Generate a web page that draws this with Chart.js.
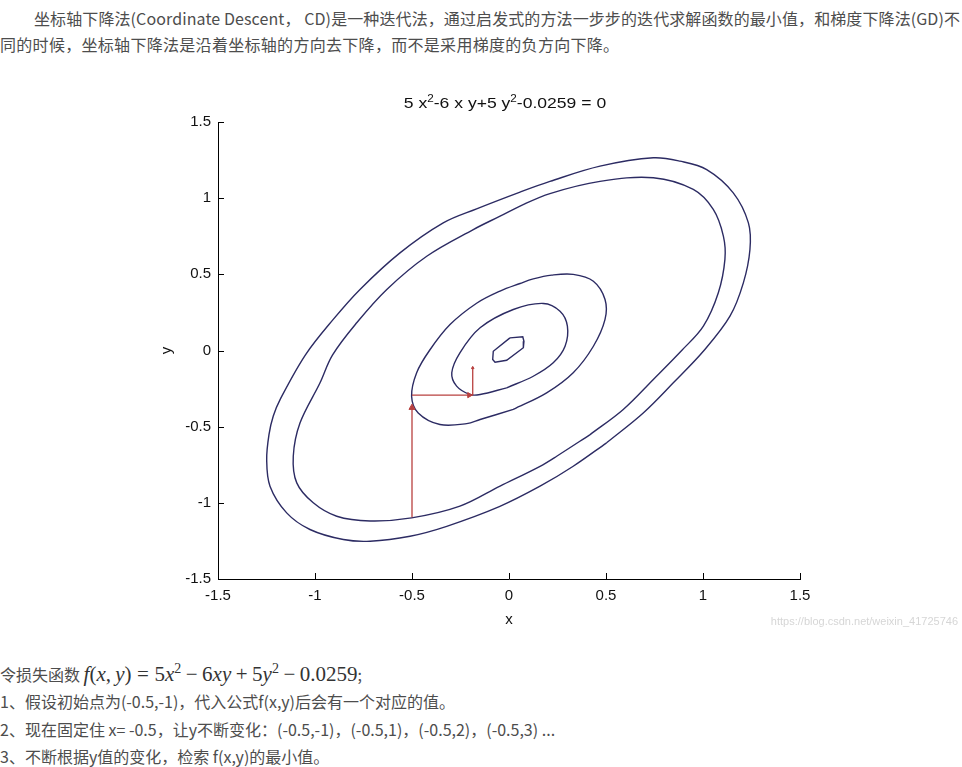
<!DOCTYPE html>
<html>
<head>
<meta charset="utf-8">
<script src="https://cdn.jsdelivr.net/npm/chart.js@4"></script>
<style>
  html, body { margin:0; padding:0; background:#fff; }
  body { width:962px; height:767px; position:relative; overflow:hidden; }
  .txt { position:absolute; left:0; font-family:"Noto Sans CJK SC", sans-serif; font-size:16px; color:#4d4d4d; white-space:nowrap; }
  #top { top:5px; line-height:26px; }
  #bottom { top:655px; line-height:27.3px; }
  .m { font-family:"Liberation Serif", serif; font-size:21px; color:#333; }
  .m i { font-style:italic; }
  .op { margin:0 4.5px; }
  .rel { margin:0 5.5px; }
  #wm { position:absolute; right:4px; top:615px; font-family:"Liberation Sans", sans-serif; font-size:11px; color:#d6d6d6; }
  #cv { position:absolute; left:140px; top:85px; }
</style>
</head>
<body>
<div id="top" class="txt">
  <div style="padding-left:34px; letter-spacing:0.1px">坐标轴下降法(Coordinate Descent， CD)是一种迭代法，通过启发式的方法一步步的迭代求解函数的最小值，和梯度下降法(GD)不</div>
  <div style="letter-spacing:0.3px">同的时候，坐标轴下降法是沿着坐标轴的方向去下降，而不是采用梯度的负方向下降。</div>
</div>
<canvas id="cv" width="680" height="550"></canvas>
<div id="wm">https://blog.csdn.net/weixin_41725746</div>
<div id="bottom" class="txt">
  <div>令损失函数 <span class="m"><i>f</i>(<i>x</i>,&thinsp;<i>y</i>)<span class="rel">=</span>5<i>x</i><sup style="font-size:14px">2</sup><span class="op">−</span>6<i>xy</i><span class="op">+</span>5<i>y</i><sup style="font-size:14px">2</sup><span class="op">−</span>0.0259</span>;</div>
  <div>1、假设初始点为(-0.5,-1)，代入公式f(x,y)后会有一个对应的值。</div>
  <div>2、现在固定住 x= -0.5，让y不断变化：(-0.5,-1)，(-0.5,1)，(-0.5,2)，(-0.5,3) ...</div>
  <div>3、不断根据y值的变化，检索 f(x,y)的最小值。</div>
</div>
<script>
// ---- data ----
const xTickValues = [-1.5, -1, -0.5, 0, 0.5, 1, 1.5];
const xTickLabels = ['-1.5', '-1', '-0.5', '0', '0.5', '1', '1.5'];
const yTickValues = [-1.5, -1, -0.5, 0, 0.5, 1, 1.5];
const yTickLabels = ['-1.5', '-1', '-0.5', '0', '0.5', '1', '1.5'];

// contour levels, from the innermost to the outermost ([x, y] points, closed loops)
const contour1 = [[0.005,0.083],[0.071,0.09],[0.077,0.061],[0.074,0.018],[-0.012,-0.064],[-0.072,-0.077],[-0.084,-0.059],[-0.081,-0.005],[0.005,0.083]];
const contour2 = [[-0.012,-0.245],[-0.149,-0.289],[-0.201,-0.289],[-0.27,-0.234],[-0.295,-0.146],[-0.253,-0.015],[-0.149,0.149],[0.022,0.269],[0.177,0.309],[0.263,0.258],[0.301,0.16],[0.289,0.028],[0.228,-0.081],[0.125,-0.169],[-0.012,-0.245]];
const contour3 = [[0.022,-0.387],[-0.149,-0.453],[-0.218,-0.48],[-0.356,-0.486],[-0.468,-0.41],[-0.502,-0.3],[-0.476,-0.146],[-0.41,0.0],[-0.304,0.17],[-0.167,0.31],[-0.046,0.39],[0.057,0.44],[0.125,0.47],[0.22,0.495],[0.331,0.5],[0.435,0.455],[0.495,0.335],[0.495,0.204],[0.435,0.028],[0.331,-0.146],[0.194,-0.278],[0.022,-0.387]];
const contour4 = [[0.418,-0.552],[0.246,-0.694],[0.16,-0.76],[-0.046,-0.89],[-0.253,-1.022],[-0.502,-1.099],[-0.716,-1.119],[-0.888,-1.088],[-1.009,-1.0],[-1.094,-0.869],[-1.112,-0.694],[-1.077,-0.475],[-0.974,-0.212],[-0.91,-0.03],[-0.785,0.182],[-0.63,0.401],[-0.424,0.619],[-0.184,0.794],[-0.046,0.882],[0.057,0.948],[0.211,1.03],[0.469,1.11],[0.744,1.134],[0.95,1.057],[1.053,0.926],[1.105,0.751],[1.113,0.598],[1.079,0.379],[1.002,0.16],[0.89,0.0],[0.744,-0.19],[0.589,-0.387],[0.418,-0.552]];
const contour5 = [[0.503,-0.606],[0.331,-0.76],[0.16,-0.891],[-0.05,-1.025],[-0.321,-1.154],[-0.51,-1.219],[-0.716,-1.252],[-0.854,-1.241],[-1.026,-1.175],[-1.146,-1.066],[-1.232,-0.891],[-1.249,-0.716],[-1.237,-0.55],[-1.215,-0.43],[-1.18,-0.322],[-1.05,-0.03],[-0.906,0.204],[-0.768,0.401],[-0.562,0.641],[-0.339,0.838],[-0.167,0.93],[0.057,1.04],[0.211,1.11],[0.469,1.21],[0.744,1.265],[0.881,1.243],[1.019,1.188],[1.156,1.035],[1.234,0.838],[1.242,0.663],[1.208,0.444],[1.139,0.225],[1.005,0.0],[0.847,-0.212],[0.692,-0.41],[0.503,-0.606]];

// coordinate-descent steps (red arrows)
const stepUp = [[-0.5,-1.095],[-0.5,-0.375]];
const stepRight = [[-0.5,-0.293],[-0.205,-0.293],[-0.187,-0.293]];
const stepShort = [[-0.187,-0.293],[-0.187,-0.114]];

const titleParts = [['5 x',false],['2',true],['-6 x y+5 y',false],['2',true],['-0.0259 = 0',false]];

// ---- chart ----
const toXY = arr => arr.map(p => ({x: p[0], y: p[1]}));
const LINE = '#2c2b63';
const RED = '#b8403f';
const contourSet = (arr, tension) => ({
  data: toXY(arr), showLine: true, borderColor: LINE, borderWidth: 1.4,
  pointRadius: 0, tension: tension, fill: false
});
const stepSet = (arr, radii, rot) => ({
  data: toXY(arr), showLine: true, borderColor: RED, borderWidth: 1.3,
  pointRadius: radii, pointStyle: 'triangle', rotation: rot,
  backgroundColor: RED, pointBorderColor: RED, pointBorderWidth: 1, tension: 0
});

const innerTicks = {
  id: 'innerTicks',
  afterDraw(chart) {
    const {ctx, chartArea, scales} = chart;
    ctx.save();
    ctx.strokeStyle = '#000';
    ctx.lineWidth = 1;
    ctx.beginPath();
    xTickValues.forEach(v => {
      const px = Math.round(scales.x.getPixelForValue(v)) + 0.5;
      ctx.moveTo(px, chartArea.bottom);
      ctx.lineTo(px, chartArea.bottom - 6);
    });
    yTickValues.forEach(v => {
      const py = Math.round(scales.y.getPixelForValue(v)) + 0.5;
      ctx.moveTo(chartArea.left, py);
      ctx.lineTo(chartArea.left + 6, py);
    });
    ctx.stroke();
    ctx.restore();
  }
};

const matlabTitle = {
  id: 'matlabTitle',
  afterDraw(chart) {
    const {ctx, chartArea} = chart;
    ctx.save();
    const big = '15px "Liberation Sans", Arial, sans-serif';
    const small = '10px "Liberation Sans", Arial, sans-serif';
    const sx = 1.17;
    let total = 0;
    titleParts.forEach(([t, sup]) => { ctx.font = sup ? small : big; total += ctx.measureText(t).width; });
    const cx = (chartArea.left + chartArea.right) / 2 - 4;
    const baseY = 23;
    ctx.translate(cx - total * sx / 2, baseY);
    ctx.scale(sx, 1);
    ctx.fillStyle = '#111';
    ctx.textBaseline = 'alphabetic';
    let x = 0;
    titleParts.forEach(([t, sup]) => {
      ctx.font = sup ? small : big;
      ctx.fillText(t, x, sup ? -6 : 0);
      x += ctx.measureText(t).width;
    });
    ctx.restore();
  }
};

const tickFont = {family: '"Liberation Sans", Arial, sans-serif', size: 15};

new Chart(document.getElementById('cv'), {
  type: 'scatter',
  data: {
    datasets: [
      stepSet(stepUp, [0, 3.5], 0),
      stepSet(stepRight, [0, 3, 0], 90),
      stepSet(stepShort, [0, 1.5], 0),
      contourSet(contour1, 0),
      contourSet(contour2, 0.35),
      contourSet(contour3, 0.35),
      contourSet(contour4, 0.35),
      contourSet(contour5, 0.35)
    ]
  },
  options: {
    responsive: false,
    animation: false,
    devicePixelRatio: 1,
    layout: {padding: {top: 37, right: 20, left: 0, bottom: 0}},
    plugins: {legend: {display: false}, tooltip: {enabled: false}, title: {display: false}},
    scales: {
      x: {
        type: 'linear', min: -1.5, max: 1.5,
        afterBuildTicks: s => { s.ticks = xTickValues.map(v => ({value: v})); },
        afterFit: s => { s.height = 56; },
        grid: {display: false, drawTicks: false},
        border: {display: true, color: '#000', width: 1},
        ticks: {color: '#111', font: tickFont, padding: 8, maxRotation: 0, autoSkip: false,
          callback: v => xTickLabels[xTickValues.indexOf(v)]},
        title: {display: true, text: 'x', color: '#111', font: tickFont, padding: {top: 0, bottom: 6}}
      },
      y: {
        type: 'linear', min: -1.5, max: 1.5,
        afterBuildTicks: s => { s.ticks = yTickValues.map(v => ({value: v})); },
        afterFit: s => { s.width = 78; },
        grid: {display: false, drawTicks: false},
        border: {display: true, color: '#000', width: 1},
        ticks: {color: '#111', font: tickFont, padding: 7, autoSkip: false,
          callback: v => yTickLabels[yTickValues.indexOf(v)]},
        title: {display: true, text: 'y', color: '#111', font: tickFont, padding: {top: 18, bottom: 0}}
      }
    }
  },
  plugins: [innerTicks, matlabTitle]
});
</script>
</body>
</html>
